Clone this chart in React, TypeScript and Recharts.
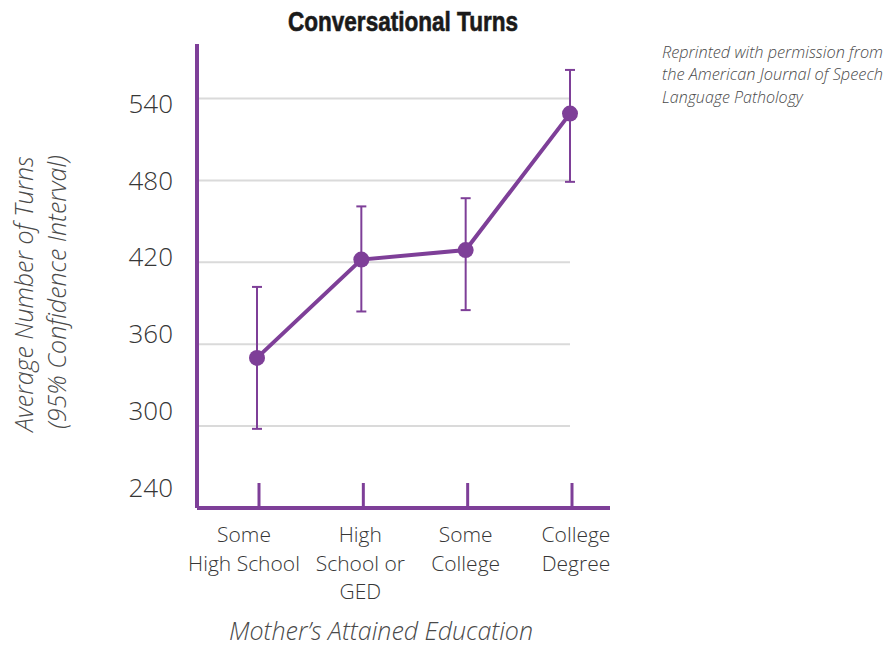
import { LineChart, Line, XAxis, YAxis, CartesianGrid, ErrorBar } from 'recharts'

// Conversational turns by mother's education, mean with 95% CI
const categories = ['Some High School', 'High School or GED', 'Some College', 'College Degree']
const tickLabels = [['Some', 'High School'], ['High', 'School or', 'GED'], ['Some', 'College'], ['College', 'Degree']]
const meanTurns = [350, 422, 429, 529]
const ciLow = [298, 384, 385, 479]
const ciHigh = [402, 461, 467, 561]
const yTicks = [240, 300, 360, 420, 480, 540]

const PURPLE = '#7e3f98'
const TEXT = '#363636'
const FONT = '"Open Sans", "DejaVu Sans", sans-serif'
const MARGIN = { top: 44, right: 278, bottom: 109, left: 137 }
const PAD_LEFT = 60
const PAD_RIGHT = 40
// small horizontal nudges of the category labels, as in the original layout
const labelNudge = [-13, -1, 0, 6]

const data = categories.map((name, i) => ({
  name,
  turns: meanTurns[i],
  ci: [meanTurns[i] - ciLow[i], ciHigh[i] - meanTurns[i]],
}))

const XTick = ({ x, y, index }: any) => {
  const lx = x + labelNudge[index]
  return (
    <g>
      <line x1={x + 2} x2={x + 2} y1={y - 25} y2={y} stroke={PURPLE} strokeWidth={3} />
      <text x={lx} y={y} textAnchor="middle" fontSize={21} fill={TEXT} fontFamily={FONT} fontWeight={300}>
        {tickLabels[index].map((t, j) => (
          <tspan key={j} x={lx} dy={j === 0 ? 34 : 28.5}>{t}</tspan>
        ))}
      </text>
    </g>
  )
}

const YTick = ({ x, y, payload }: any) => {
  // labels sit on a slightly tighter spacing than the gridlines
  const shift = 5 - ((540 - payload.value) / 60) * 5.2
  return (
    <text x={x} y={y + shift + 9.5} textAnchor="end" fontSize={26} fill={TEXT} fontFamily={FONT} fontWeight={300}>
      {payload.value}
    </text>
  )
}

const gridLine = (props: any) => {
  // the grid adds a line on the plot's top edge; the original has none
  const y = Number(props.y1)
  if (!(y > MARGIN.top + 20)) return <g key={`h-${props.index}`} />
  return (
    <line
      key={`h-${props.index}`}
      x1={props.x1}
      x2={props.x2 - PAD_RIGHT}
      y1={y}
      y2={y}
      stroke="#dadada"
      strokeWidth={2}
    />
  )
}

export default function App() {
  return (
    <div style={{ position: 'absolute', left: 0, top: 0, width: 888, height: 647, background: '#fff' }}>
      <LineChart width={888} height={647} data={data} margin={MARGIN}>
        <CartesianGrid vertical={false} horizontal={gridLine} />
        <XAxis
          dataKey="name"
          scale="point"
          padding={{ left: PAD_LEFT, right: PAD_RIGHT }}
          height={30}
          interval={0}
          axisLine={{ stroke: PURPLE, strokeWidth: 4 }}
          tickLine={false}
          tickSize={0}
          tickMargin={0}
          tick={<XTick />}
        />
        <YAxis
          domain={[240, 580]}
          ticks={yTicks}
          width={60}
          axisLine={{ stroke: PURPLE, strokeWidth: 4 }}
          tickLine={false}
          tickSize={0}
          tickMargin={24}
          tick={<YTick />}
        />
        <Line
          type="linear"
          dataKey="turns"
          stroke={PURPLE}
          strokeWidth={4}
          dot={{ r: 8, fill: PURPLE, stroke: 'none' }}
          activeDot={false}
          isAnimationActive={false}
        >
          <ErrorBar dataKey="ci" direction="y" width={5} stroke={PURPLE} strokeWidth={2} isAnimationActive={false} />
        </Line>
      </LineChart>
      <svg width={888} height={647} style={{ position: 'absolute', left: 0, top: 0, pointerEvents: 'none' }}>
        <text
          x={403}
          y={31}
          textAnchor="middle"
          fontSize={27}
          fontWeight="bold"
          fontFamily='"Liberation Sans Narrow", "Liberation Sans", sans-serif'
          fill="#1a1a1a"
          stroke="#1a1a1a"
          strokeWidth={0.6}
          textLength={230}
          lengthAdjust="spacingAndGlyphs"
        >
          Conversational Turns
        </text>
        <g fontFamily={FONT} fontStyle="italic" fontSize={16} fill="#4a4a4a" fontWeight={300}>
          <text x={662} y={58} textLength={221} lengthAdjust="spacingAndGlyphs">Reprinted with permission from</text>
          <text x={662} y={80} textLength={221} lengthAdjust="spacingAndGlyphs">the American Journal of Speech</text>
          <text x={662} y={103}>Language Pathology</text>
        </g>
        <g fontFamily={FONT} fontStyle="italic" fontSize={25} fill="#4a4a4a" fontWeight={300}>
          <text x={381} y={640} textAnchor="middle">Mother’s Attained Education</text>
          <text transform="translate(33,294) rotate(-90)" textAnchor="middle">Average Number of Turns</text>
          <text transform="translate(66,292) rotate(-90)" textAnchor="middle">(95% Confidence Interval)</text>
        </g>
      </svg>
    </div>
  )
}
